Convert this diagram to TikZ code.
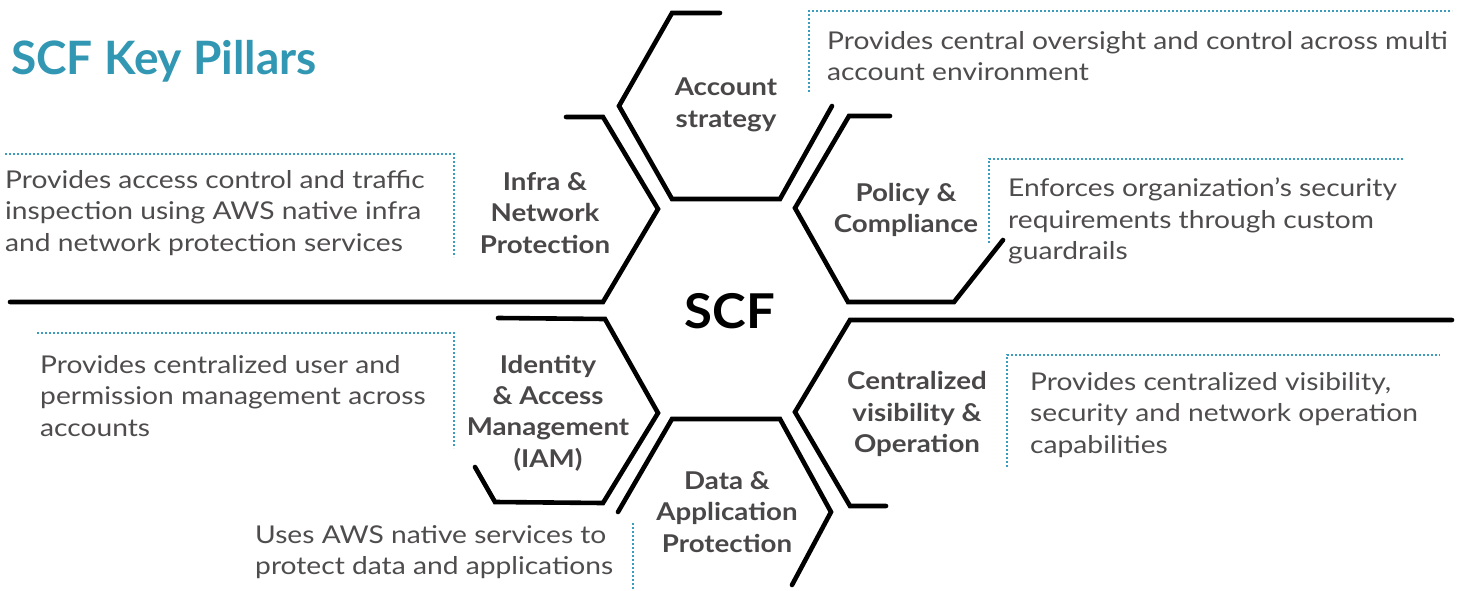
\documentclass[tikz,border=0pt]{standalone}
\usepackage{fontspec}
\setmainfont{Lato}
\newfontfamily\descfamily{Lato}[FakeStretch=1.15]
\newfontfamily\lblfamily{Lato}[FakeStretch=1.13]
\newfontfamily\scffamily{Lato}[FakeStretch=1.06]
\begin{document}
\begin{tikzpicture}[x=1pt,y=-1pt,
  hexline/.style={line width=4.6pt,line cap=round,line join=miter,black},
  dotline/.style={line width=2.2pt,teal0,dash pattern=on 1.7pt off 2.3pt},
  desc/.style={font=\descfamily\fontsize{24.5}{31.6}\selectfont,text=desc0,align=left,inner sep=0pt,anchor=west},
  lbl/.style={font=\lblfamily\fontsize{24.5}{31.4}\selectfont\bfseries,text=lbl0,align=center,inner sep=0pt}]
\definecolor{teal0}{HTML}{3A9DBD}
\definecolor{desc0}{HTML}{4F4C4D}
\definecolor{lbl0}{HTML}{4A4748}
\definecolor{title0}{HTML}{3197B3}
\useasboundingbox (0,0) rectangle (1466,591);
\fill[white] (0,0) rectangle (1466,591);

% hexagon outlines
\draw[hexline] (720,13) -- (672,13) -- (619,106) -- (672,199) -- (780,199) -- (832,106);
\draw[hexline] (566,117) -- (603,117) -- (658,209) -- (603,302) -- (10,302);
\draw[hexline] (890,116) -- (849,116) -- (795,208) -- (848,302) -- (954,302) -- (1003,240);
\draw[hexline] (498,318) -- (605,319) -- (658,413) -- (603,503) -- (495,502) -- (475,467);
\draw[hexline] (618,512) -- (672,419) -- (780,419) -- (831,512) -- (792,585);
\draw[hexline] (1452,320) -- (850,320) -- (795,412) -- (850,506) -- (886,506);

% dotted callout lines
\draw[dotline] (809,92) -- (809,11) -- (1452,11);
\draw[dotline] (5,154) -- (454,154) -- (454,257);
\draw[dotline] (989,243) -- (989,159) -- (1403,159);
\draw[dotline] (37,333) -- (454,333) -- (454,448);
\draw[dotline] (1007,467) -- (1007,355) -- (1440,355);
\draw[dotline] (633,523) -- (633,591);

% title and centre
\node[inner sep=0pt,anchor=west,text=title0,font=\fontsize{46}{50}\selectfont\bfseries] (title) at (11,61) {SCF Key Pillars};
\node[inner sep=0pt,font=\scffamily\fontsize{48}{50}\selectfont\bfseries] (scf) at (730,311) {SCF};

% pillar labels
\node[lbl] (acc) at (726,105) {Account\\strategy};
\node[lbl] (infra) at (545,213) {Infra \&\\Network\\Protection};
\node[lbl] (pol) at (906,210) {Policy \&\\Compliance};
\node[lbl] (iam) at (548,413) {Identity\\\& Access\\Management\\(IAM)};
\node[lbl] (data) at (727,512) {Data \&\\Application\\Protection};
\node[lbl] (cen) at (917,414) {Centralized\\visibility \&\\Operation};

% descriptions
\node[desc] (dacc) at (827,56) {Provides central oversight and control across multi\\account environment};
\node[desc] (dinfra) at (5,213) {Provides access control and traffic\\inspection using AWS native infra\\and network protection services};
\node[desc] (dpol) at (1008,221) {Enforces organization’s security\\requirements through custom\\guardrails};
\node[desc] (diam) at (40,396) {Provides centralized user and\\permission management across\\accounts};
\node[desc] (dcen) at (1030,415) {Provides centralized visibility,\\security and network operation\\capabilities};
\node[desc] (ddata) at (255,552) {Uses AWS native services to\\protect data and applications};
\end{tikzpicture}
\end{document}
